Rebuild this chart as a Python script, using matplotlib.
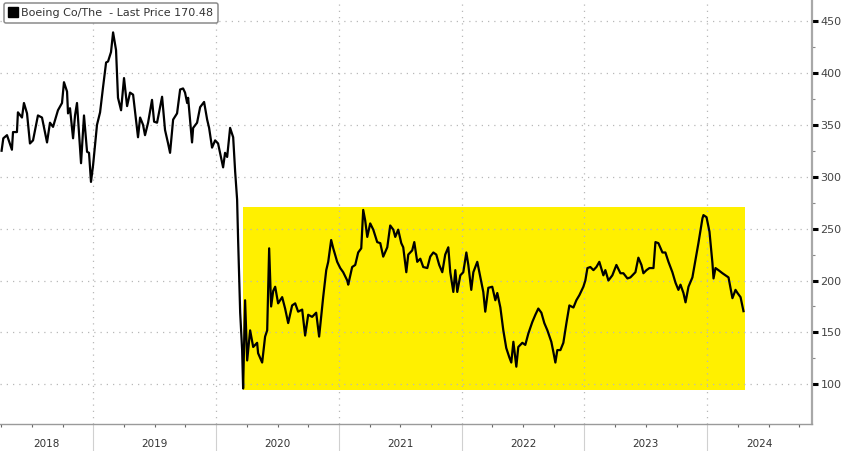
import matplotlib
matplotlib.use("Agg")
import matplotlib.pyplot as plt
from matplotlib.patches import Rectangle
from matplotlib.lines import Line2D
from matplotlib.ticker import FixedLocator, NullFormatter

# ---------------- data (decimal year, price) ----------------
dates = [
    2018.253, 2018.267, 2018.297, 2018.337, 2018.346, 2018.378, 2018.386, 2018.419, 2018.435, 2018.460,
    2018.484, 2018.509, 2018.549, 2018.582, 2018.623, 2018.647, 2018.672, 2018.712, 2018.745, 2018.761,
    2018.786, 2018.794, 2018.810, 2018.835, 2018.851, 2018.867, 2018.900, 2018.924, 2018.949, 2018.965,
    2018.981, 2018.998, 2019.030, 2019.055, 2019.079, 2019.104, 2019.120, 2019.144, 2019.161, 2019.185,
    2019.201, 2019.226, 2019.250, 2019.275, 2019.299, 2019.324, 2019.364, 2019.381, 2019.405, 2019.421,
    2019.446, 2019.478, 2019.495, 2019.519, 2019.544, 2019.560, 2019.584, 2019.609, 2019.625, 2019.650,
    2019.682, 2019.707, 2019.731, 2019.747, 2019.764, 2019.772, 2019.804, 2019.813, 2019.845, 2019.870,
    2019.902, 2019.927, 2019.943, 2019.967, 2019.992, 2020.016, 2020.057, 2020.073, 2020.090, 2020.114,
    2020.139, 2020.155, 2020.171, 2020.179, 2020.196, 2020.212, 2020.220, 2020.236, 2020.253, 2020.277,
    2020.302, 2020.334, 2020.342, 2020.375, 2020.399, 2020.416, 2020.432, 2020.448, 2020.465, 2020.481,
    2020.505, 2020.538, 2020.562, 2020.587, 2020.619, 2020.644, 2020.668, 2020.701, 2020.725, 2020.750,
    2020.782, 2020.815, 2020.839, 2020.872, 2020.897, 2020.913, 2020.937, 2020.954, 2020.986, 2021.011,
    2021.035, 2021.068, 2021.076, 2021.108, 2021.133, 2021.157, 2021.182, 2021.198, 2021.214, 2021.231,
    2021.255, 2021.280, 2021.312, 2021.337, 2021.361, 2021.394, 2021.418, 2021.443, 2021.459, 2021.483,
    2021.508, 2021.524, 2021.549, 2021.565, 2021.597, 2021.614, 2021.638, 2021.663, 2021.687, 2021.720,
    2021.744, 2021.769, 2021.793, 2021.817, 2021.842, 2021.866, 2021.891, 2021.907, 2021.932, 2021.948,
    2021.964, 2021.989, 2022.013, 2022.038, 2022.054, 2022.078, 2022.095, 2022.127, 2022.152, 2022.176,
    2022.192, 2022.217, 2022.249, 2022.274, 2022.290, 2022.315, 2022.339, 2022.363, 2022.388, 2022.404,
    2022.421, 2022.445, 2022.461, 2022.494, 2022.518, 2022.543, 2022.575, 2022.600, 2022.624, 2022.649,
    2022.673, 2022.698, 2022.730, 2022.747, 2022.763, 2022.779, 2022.804, 2022.828, 2022.853, 2022.877,
    2022.910, 2022.934, 2022.959, 2022.991, 2023.007, 2023.024, 2023.048, 2023.073, 2023.097, 2023.121,
    2023.154, 2023.170, 2023.195, 2023.227, 2023.260, 2023.293, 2023.317, 2023.350, 2023.374, 2023.415,
    2023.439, 2023.464, 2023.480, 2023.505, 2023.529, 2023.562, 2023.578, 2023.602, 2023.635, 2023.659,
    2023.684, 2023.716, 2023.741, 2023.765, 2023.782, 2023.806, 2023.823, 2023.847, 2023.879, 2023.904,
    2023.928, 2023.961, 2023.969, 2023.994, 2024.018, 2024.042, 2024.051, 2024.067, 2024.091, 2024.124,
    2024.148, 2024.173, 2024.205, 2024.230, 2024.246, 2024.271, 2024.295,
]
prices = [
    325, 337, 340, 326, 343, 343, 362, 357, 371, 361,
    332, 335, 359, 357, 333, 352, 348, 364, 371, 391,
    382, 361, 366, 337, 359, 371, 313, 359, 324, 323,
    295, 311, 350, 362, 386, 410, 411, 420, 439, 422,
    376, 364, 395, 368, 381, 379, 338, 357, 350, 340,
    352, 374, 353, 352, 367, 377, 345, 332, 323, 355,
    361, 384, 385, 381, 371, 376, 333, 347, 352, 367,
    372, 355, 347, 328, 335, 332, 309, 323, 319, 347,
    338, 305, 278, 240, 169, 133, 96, 181, 123, 152,
    136, 140, 130, 121, 146, 152, 231, 175, 190, 194,
    178, 184, 173, 159, 176, 178, 170, 172, 147, 167,
    165, 169, 146, 184, 210, 218, 239, 231, 218, 212,
    208, 200, 196, 213, 215, 227, 231, 268, 258, 242,
    255, 249, 237, 236, 223, 232, 253, 249, 242, 249,
    236, 232, 208, 225, 229, 237, 218, 221, 213, 212,
    223, 227, 225, 215, 208, 225, 232, 208, 189, 210,
    189, 205, 208, 227, 215, 191, 208, 218, 203, 189,
    170, 193, 194, 181, 188, 174, 152, 135, 126, 121,
    141, 117, 136, 140, 138, 149, 160, 167, 173, 169,
    159, 152, 141, 131, 121, 133, 133, 140, 159, 176,
    174, 181, 186, 194, 200, 212, 213, 210, 213, 218,
    205, 210, 200, 205, 215, 207, 207, 202, 203, 208,
    222, 215, 207, 210, 212, 212, 237, 236, 227, 227,
    218, 208, 198, 191, 196, 188, 179, 194, 203, 220,
    236, 260, 263, 261, 247, 217, 202, 212, 210, 207,
    205, 203, 183, 191, 188, 184, 170.48,
]

years = [2018, 2019, 2020, 2021, 2022, 2023, 2024]
year_labels = ["2018", "2019", "2020", "2021", "2022", "2023", "2024"]
y_ticks = [100, 150, 200, 250, 300, 350, 400, 450]
y_tick_labels = ["100", "150", "200", "250", "300", "350", "400", "450"]
legend_label = "Boeing Co/The  - Last Price 170.48"

# highlighted range
box_start, box_end = 2020.22, 2024.31
box_low, box_high = 95, 271

x_min, x_max = 2018.240, 2024.853
y_min, y_max = 61.8, 470.2

# ---------------- figure ----------------
W, H = 848, 451
fig = plt.figure(figsize=(W / 100, H / 100), dpi=100)
fig.patch.set_facecolor("white")
ax = fig.add_axes([0, 27 / H, 812 / W, 424 / H])
ax.set_facecolor("white")

ax.add_patch(Rectangle((box_start, box_low), box_end - box_start, box_high - box_low,
                       facecolor="#FFF000", edgecolor="none", zorder=0.2))

ax.plot(dates, prices, color="black", linewidth=1.6, zorder=3, solid_joinstyle="round")

ax.set_xlim(x_min, x_max)
ax.set_ylim(y_min, y_max)

# grid
ax.set_axisbelow(True)
ax.grid(True, which="major", linestyle=(0, (1, 4)), color="#b8b8b8", linewidth=0.9)

# y axis on right
ax.yaxis.tick_right()
ax.yaxis.set_major_locator(FixedLocator(y_ticks))
ax.set_yticklabels(y_tick_labels)
ax.yaxis.set_minor_locator(FixedLocator([v + 25 for v in [75] + y_ticks]))
ax.tick_params(axis="y", which="major", direction="out", length=4, width=2.2,
               color="black", labelsize=8, labelcolor="#444444", pad=2)
ax.tick_params(axis="y", which="minor", direction="out", length=2, width=0.8, color="#888888")

# x axis: year boundaries as long separators, quarterly minor ticks
inner_years = [y for y in years if x_min < y < x_max]
ax.xaxis.set_major_locator(FixedLocator(inner_years))
ax.xaxis.set_major_formatter(NullFormatter())
quarters = [y + q for y in years for q in (0.25, 0.5, 0.75) if x_min < y + q < x_max]
ax.xaxis.set_minor_locator(FixedLocator(quarters))
ax.tick_params(axis="x", which="major", direction="out", length=19.5, width=0.8, color="#d0d0d0")
ax.tick_params(axis="x", which="minor", direction="out", length=2.5, width=0.8, color="#666666")

for s in ("top", "left"):
    ax.spines[s].set_visible(False)
ax.spines["right"].set_color("#a8a8a8")
ax.spines["right"].set_linewidth(1.6)
ax.spines["bottom"].set_color("#9a9a9a")
ax.spines["bottom"].set_linewidth(1.0)

# year labels centered in visible part of each year
for yr, lab in zip(years, year_labels):
    a = max(yr, x_min)
    b = min(yr + 1, x_max)
    if b > a:
        ax.text((a + b) / 2, -0.046, lab, transform=ax.get_xaxis_transform(),
                ha="center", va="center", fontsize=7.5, color="#333333")

# legend
handle = Line2D([], [], marker="s", color="black", linestyle="none", markersize=7.5)
leg = ax.legend([handle], [legend_label], loc="upper left", bbox_to_anchor=(0.003, 0.997),
                frameon=True, fancybox=True, fontsize=8, handlelength=0.7,
                handletextpad=0.35, borderpad=0.45, borderaxespad=0.15, framealpha=1)
leg.get_frame().set_edgecolor("#8a8a8a")
leg.get_frame().set_linewidth(1.1)
for t in leg.get_texts():
    t.set_color("#333333")

fig.savefig("out.png", dpi=100)
